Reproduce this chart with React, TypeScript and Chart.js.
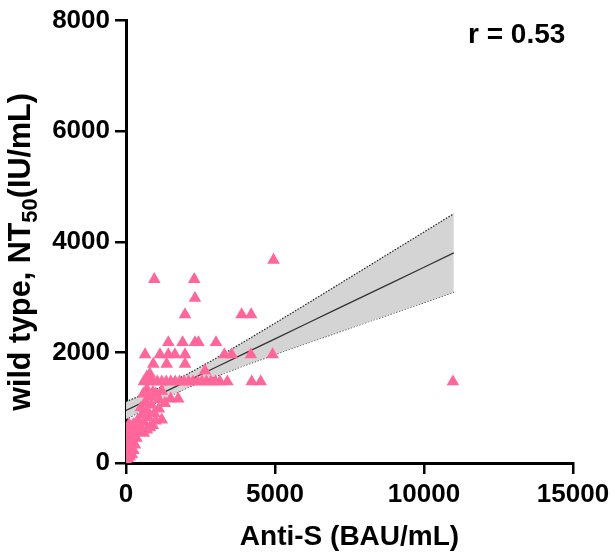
import React, { useEffect, useRef } from "react";
import { Chart, registerables } from "chart.js";

Chart.register(...registerables);

// Anti-S (BAU/mL) for each subject
const antiS: number[] = [
  20, 60, 120, 200, 80, 250, 40, 150, 300, 90, 200, 350, 100, 250, 450, 600, 150, 700, 350, 800,
  500, 250, 900, 600, 400, 1000, 750, 550, 1200, 950, 700, 1100, 500, 850, 1300, 650, 1100, 1500,
  1750, 800, 1000, 580, 900, 700, 1200, 30, 50, 100, 20,
  600, 750, 900, 1050, 1200, 1350, 1500, 1650, 1800, 1950, 2100, 2250, 2400, 2550, 2700, 2850,
  3000, 3150, 3400, 4220, 4520, 10970,
  700, 800, 2650, 916, 1365, 1980, 640, 1140, 1420, 1640, 1980, 3300, 3550, 4190, 4920,
  1420, 1900, 2315, 2430, 3020, 1980, 3880, 4200, 2315, 950, 2290, 4950,
];
// wild type NT50 (IU/mL) for each subject
const nt50: number[] = [
  30, 80, 110, 150, 200, 230, 280, 300, 330, 380, 420, 450, 500, 520, 560, 540, 580, 600, 620, 640,
  650, 700, 680, 740, 780, 760, 820, 880, 780, 900, 960, 980, 1000, 1050, 1080, 1100, 1150, 1160,
  1160, 1200, 1250, 1250, 1280, 1330, 1300, 450, 600, 700, 150,
  1470, 1470, 1470, 1470, 1470, 1470, 1470, 1470, 1470, 1470, 1470, 1470, 1470, 1470, 1470, 1470,
  1470, 1470, 1470, 1470, 1470, 1470,
  1560, 1610, 1668, 1790, 1790, 1790, 1960, 1960, 1960, 1960, 1960, 1960, 1960, 1960, 1960,
  2180, 2180, 2180, 2180, 2180, 2685, 2685, 2685, 2980, 3320, 3320, 3670,
];

// Linear fit and its 95% confidence band
const fitX: number[] = [0, 1000, 2000, 3000, 4000, 5000, 6000, 7000, 8000, 9000, 10000, 11000];
const fitY: number[] = [950, 1209, 1468, 1727, 1986, 2245, 2504, 2763, 3022, 3281, 3540, 3799];
const ciUpper: number[] = [1110, 1330, 1589, 1887, 2204, 2528, 2855, 3185, 3515, 3846, 4177, 4509];
const ciLower: number[] = [790, 1088, 1347, 1567, 1768, 1962, 2153, 2341, 2529, 2716, 2903, 3089];

const xTicks: number[] = [0, 5000, 10000, 15000];
const yTicks: number[] = [0, 2000, 4000, 6000, 8000];
const rLabel = "r = 0.53";
const xTitle = "Anti-S (BAU/mL)";
const yTitleMain = "wild type, NT";
const yTitleSub = "50";
const yTitleEnd = "(IU/mL)";

const FONT = "'Liberation Sans', Arial, Helvetica, sans-serif";

export default function App() {
  const ref = useRef<HTMLCanvasElement | null>(null);

  useEffect(() => {
    if (!ref.current) return;
    const pts = antiS.map((x, i) => ({ x, y: nt50[i] }));
    const line = (arr: number[]) => fitX.map((x, i) => ({ x, y: arr[i] }));

    const textPlugin = {
      id: "texts",
      afterDraw(chart: any) {
        const ctx = chart.ctx as CanvasRenderingContext2D;
        ctx.save();
        ctx.fillStyle = "#000";
        ctx.font = `bold 28px ${FONT}`;
        ctx.textBaseline = "middle";
        ctx.textAlign = "left";
        ctx.fillText(rLabel, 468, 35);

        // y title with subscript
        const big = `bold 30.5px ${FONT}`;
        const small = `bold 22px ${FONT}`;
        ctx.font = big;
        const w1 = ctx.measureText(yTitleMain).width;
        const w3 = ctx.measureText(yTitleEnd).width;
        ctx.font = small;
        const w2 = ctx.measureText(yTitleSub).width;
        const total = w1 + w2 + w3;
        ctx.translate(30, 252);
        ctx.rotate(-Math.PI / 2);
        ctx.textBaseline = "alphabetic";
        let x0 = -total / 2;
        ctx.font = big;
        ctx.fillText(yTitleMain, x0, 0);
        x0 += w1;
        ctx.font = small;
        ctx.fillText(yTitleSub, x0, 7);
        x0 += w2;
        ctx.font = big;
        ctx.fillText(yTitleEnd, x0, 0);
        ctx.restore();
      },
    };

    const axisCommon = {
      border: { display: true, color: "#000", width: 3 },
      grid: {
        display: true,
        drawOnChartArea: false,
        drawTicks: true,
        tickLength: 11,
        lineWidth: 2.5,
        color: "#000",
        tickColor: "#000",
      },
    };

    const plain = (v: any) => String(v);

    const chart = new Chart(ref.current, {
      type: "scatter",
      data: {
        datasets: [
          {
            label: "data",
            data: pts,
            pointStyle: "triangle",
            pointRadius: 7.3,
            pointBorderWidth: 0,
            backgroundColor: "rgb(255,102,153)",
            borderColor: "rgb(255,102,153)",
            order: 0,
          },
          {
            label: "fit",
            data: line(fitY),
            showLine: true,
            pointRadius: 0,
            borderColor: "#333",
            borderWidth: 1.3,
            fill: false,
            order: 1,
          },
          {
            label: "upper",
            data: line(ciUpper),
            showLine: true,
            pointRadius: 0,
            borderColor: "#222",
            borderWidth: 1.2,
            borderDash: [1.5, 1.5],
            backgroundColor: "rgb(212,212,212)",
            fill: "+1",
            order: 2,
          },
          {
            label: "lower",
            data: line(ciLower),
            showLine: true,
            pointRadius: 0,
            borderColor: "#222",
            borderWidth: 1.2,
            borderDash: [1.5, 1.5],
            fill: false,
            order: 3,
          },
        ],
      },
      options: {
        animation: false,
        responsive: false,
        maintainAspectRatio: false,
        layout: { padding: { left: 0, right: 42, top: 14, bottom: 0 } },
        plugins: { legend: { display: false }, tooltip: { enabled: false } },
        scales: {
          x: {
            type: "linear",
            min: 0,
            max: 15000,
            ...axisCommon,
            afterBuildTicks: (axis: any) => {
              axis.ticks = xTicks.map((v) => ({ value: v }));
            },
            ticks: {
              color: "#000",
              padding: 5,
              font: { family: FONT, size: 26, weight: "bold" },
              maxRotation: 0,
              callback: plain,
            },
            title: {
              display: true,
              text: xTitle,
              color: "#000",
              font: { family: FONT, size: 28, weight: "bold" },
              padding: { top: 0, bottom: 0 },
            },
            afterFit: (axis: any) => {
              axis.height = 91;
            },
          },
          y: {
            type: "linear",
            min: 0,
            max: 8000,
            ...axisCommon,
            afterBuildTicks: (axis: any) => {
              axis.ticks = yTicks.map((v) => ({ value: v }));
            },
            ticks: {
              color: "#000",
              padding: 5,
              font: { family: FONT, size: 26, weight: "bold" },
              callback: plain,
            },
            afterFit: (axis: any) => {
              axis.width = 126;
            },
          },
        },
      },
      plugins: [textPlugin],
    } as any);
    return () => chart.destroy();
  }, []);

  return (
    <div style={{ position: "fixed", left: 0, top: 0, width: 615, height: 554, background: "#fff" }}>
      <canvas ref={ref} width={615} height={554} style={{ width: 615, height: 554, display: "block" }} />
    </div>
  );
}
